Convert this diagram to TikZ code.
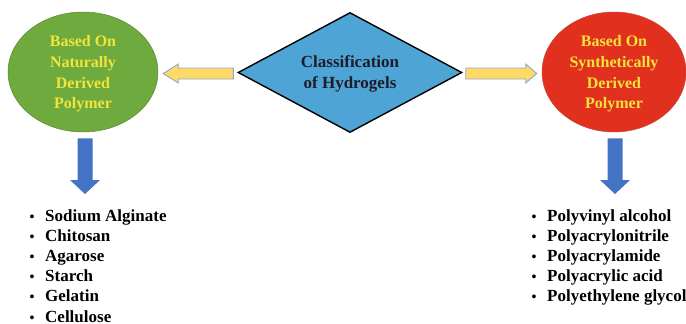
\documentclass[tikz,border=0pt]{standalone}
\usepackage{fontspec}
\setmainfont{Liberation Serif}
\usetikzlibrary{shapes.geometric,calc}

\definecolor{natgreen}{HTML}{6FAA3E}
\definecolor{synred}{HTML}{E2301F}
\definecolor{diablue}{HTML}{4FA4D6}
\definecolor{downblue}{HTML}{4472C4}
\definecolor{sideyellow}{HTML}{FFD966}
\definecolor{sideedge}{HTML}{8FA6CF}
\definecolor{labelyellow}{HTML}{F3E43C}
\definecolor{darktext}{HTML}{1C1C2A}

\tikzset{
  blob/.style={ellipse, minimum width=#1, minimum height=120pt, inner sep=0pt},
  blobtext/.style={align=center, text=labelyellow, font=\fontsize{16}{20.6}\selectfont\bfseries},
  hubtext/.style={align=center, text=darktext, font=\fontsize{17}{21}\selectfont\bfseries},
  sidearrow/.style={fill=sideyellow, draw=sideedge, line width=0.9pt, line join=miter},
  downarrow/.style={fill=downblue, draw=none},
  itemtext/.style={anchor=base west, inner sep=0pt, font=\fontsize{17}{20}\selectfont\bfseries},
  bullettext/.style={anchor=base, inner sep=0pt, font=\fontsize{14}{20}\selectfont\bfseries}
}

\begin{document}
\begin{tikzpicture}[x=1pt, y=-1pt]
  \useasboundingbox (0,0) rectangle (686,324);

  % central diamond
  \node[diamond, aspect=1.87, minimum width=224pt, minimum height=120pt, inner sep=1pt,
        fill=diablue, draw=black, line width=1.4pt] (hub) at (350,72.5) {};
  \node[hubtext] (hublabel) at (350,74) {Classification\\of Hydrogels};

  % the two categories
  \node[blob=150pt, fill=natgreen, draw=natgreen!80!black, line width=0.5pt] (nat) at (83,72) {};
  \node[blobtext] (natlabel) at (83,74) {Based On\\Naturally\\Derived\\Polymer};

  \node[blob=144pt, fill=synred, draw=synred!70!gray, line width=0.5pt] (syn) at (614,72) {};
  \node[blobtext] (synlabel) at (614,74) {Based On\\Synthetically\\Derived\\Polymer};

  % block arrows from the diamond to the categories
  \draw[sidearrow] let \p1=($(hub.west)+(-4,1)$), \p2=($(nat.east)+(5,1)$) in
    (\x1,\y1+5.5pt) -- (\x2+15pt,\y1+5.5pt) -- (\x2+15pt,\y1+9.5pt) -- (\x2,\y1)
    -- (\x2+15pt,\y1-9.5pt) -- (\x2+15pt,\y1-5.5pt) -- (\x1,\y1-5.5pt) -- cycle;
  \draw[sidearrow] let \p1=($(hub.east)+(3,1)$), \p2=($(syn.west)+(-5,1)$) in
    (\x1,\y1+5.5pt) -- (\x2-11pt,\y1+5.5pt) -- (\x2-11pt,\y1+9.5pt) -- (\x2,\y1)
    -- (\x2-11pt,\y1-9.5pt) -- (\x2-11pt,\y1-5.5pt) -- (\x1,\y1-5.5pt) -- cycle;

  % lists of example polymers
  \foreach \t [count=\i] in {Sodium Alginate, Chitosan, Agarose, Starch, Gelatin, Cellulose} {
    \node[itemtext] (nitem\i) at (45,{221+20.2*(\i-1)}) {\t};
    \node[bullettext] (nbul\i) at (32,{221+20.2*(\i-1)}) {•};
  }
  \foreach \t [count=\i] in {Polyvinyl alcohol, Polyacrylonitrile, Polyacrylamide, Polyacrylic acid, Polyethylene glycol} {
    \node[itemtext] (sitem\i) at (547,{221+20.2*(\i-1)}) {\t};
    \node[bullettext] (sbul\i) at (534,{221+20.2*(\i-1)}) {•};
  }

  % block arrows from the categories down to the lists
  \draw[downarrow] let \p1=($(nat.south)+(2,6)$), \p2=(\x1,{-194pt}) in
    (\x1-7.5pt,\y1) -- (\x1-7.5pt,\y2+14pt) -- (\x1-15pt,\y2+14pt) -- (\x1,\y2)
    -- (\x1+15pt,\y2+14pt) -- (\x1+7.5pt,\y2+14pt) -- (\x1+7.5pt,\y1) -- cycle;
  \draw[downarrow] let \p1=($(syn.south)+(1,6)$), \p2=(\x1,{-194pt}) in
    (\x1-7.5pt,\y1) -- (\x1-7.5pt,\y2+14pt) -- (\x1-15pt,\y2+14pt) -- (\x1,\y2)
    -- (\x1+15pt,\y2+14pt) -- (\x1+7.5pt,\y2+14pt) -- (\x1+7.5pt,\y1) -- cycle;
\end{tikzpicture}
\end{document}
